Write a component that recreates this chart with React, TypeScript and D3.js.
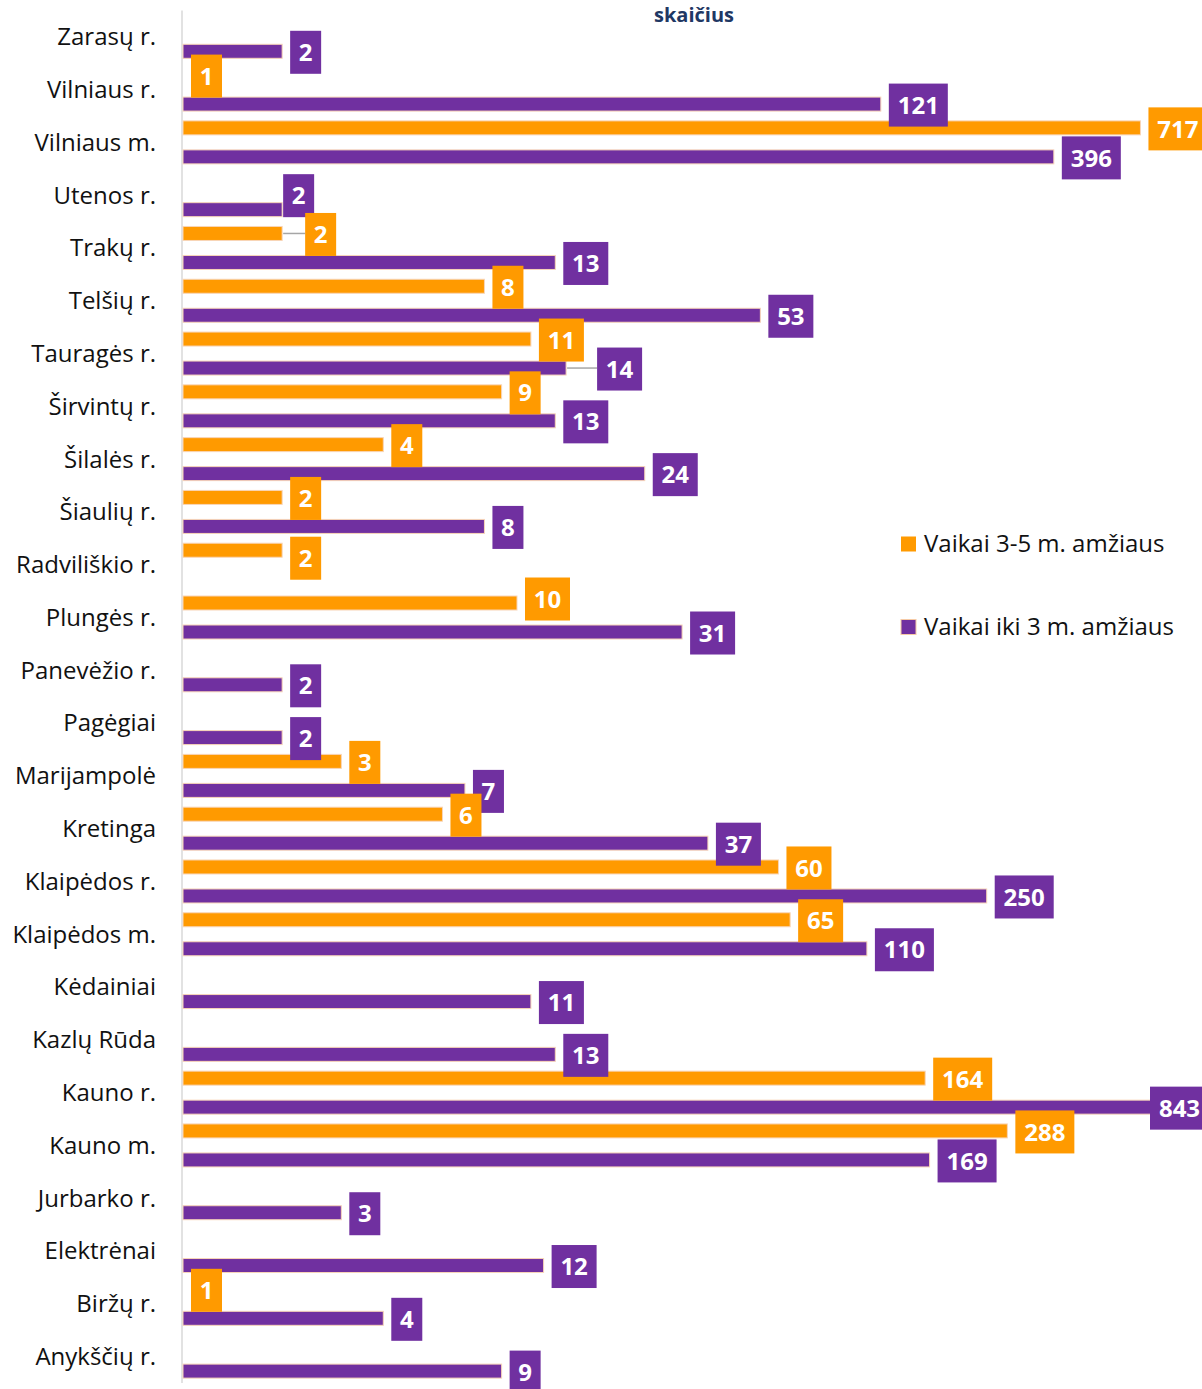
import React from "react";
import * as d3 from "d3";

const categories = [
  "Zarasų r.", "Vilniaus r.", "Vilniaus m.", "Utenos r.", "Trakų r.", "Telšių r.",
  "Tauragės r.", "Širvintų r.", "Šilalės r.", "Šiaulių r.", "Radviliškio r.", "Plungės r.",
  "Panevėžio r.", "Pagėgiai", "Marijampolė", "Kretinga", "Klaipėdos r.", "Klaipėdos m.",
  "Kėdainiai", "Kazlų Rūda", "Kauno r.", "Kauno m.", "Jurbarko r.", "Elektrėnai",
  "Biržų r.", "Anykščių r.",
];

const series3to5: (number | null)[] = [
  null, 1, 717, null, 2, 8, 11, 9, 4, 2, 2, 10, null, null, 3, 6, 60, 65, null, null,
  164, 288, null, null, 1, null,
];

const seriesUnder3: (number | null)[] = [
  2, 121, 396, 2, 13, 53, 14, 13, 24, 8, null, 31, 2, 2, 7, 37, 250, 110, 11, 13,
  843, 169, 3, 12, 4, 9,
];

const seriesNames = ["Vaikai 3-5 m. amžiaus", "Vaikai iki 3 m. amžiaus"];
const seriesKeys = ["s35", "s03"];
const titleText = "skaičius";

// label nudges (styling of overlapping data labels)
const labelNudges: Record<string, { dx?: number; dy?: number; leader?: boolean }> = {
  "Utenos r.|s03": { dx: -7, dy: -15 },
  "Trakų r.|s35": { dx: 15, leader: true },
  "Tauragės r.|s03": { dx: 23, leader: true },
  "Plungės r.|s35": { dy: -5 },
  "Radviliškio r.|s35": { dy: 7 },
};

const COLORS: Record<string, string> = { s35: "#FF9A00", s03: "#7030A0" };

export default function App() {
  const W = 1202;
  const H = 1389;
  const axisX = 183;
  const y = d3.scaleBand<string>().domain(categories).range([10.4, 1383]).paddingInner(0).paddingOuter(0);
  const sub = d3.scalePoint<string>().domain(seriesKeys).range([-14.5, 14.5]);
  const x = d3.scaleLog().domain([1, 1000]).range([181, 1189]);
  const barH = 14;
  const font = "'Open Sans', 'DejaVu Sans', sans-serif";

  type Item = { cat: string; key: string; v: number };
  const items: Item[] = [];
  categories.forEach((c, i) => {
    const a = seriesUnder3[i];
    if (a != null) items.push({ cat: c, key: "s03", v: a });
  });
  categories.forEach((c, i) => {
    const a = series3to5[i];
    if (a != null) items.push({ cat: c, key: "s35", v: a });
  });

  const cy = (it: Item) => (y(it.cat) as number) + y.bandwidth() / 2 + (sub(it.key) as number);

  return (
    <svg width={W} height={H} style={{ position: "absolute", left: 0, top: 0, background: "#fff" }}>
      <text x={694} y={22} textAnchor="middle" fontFamily={font} fontWeight={700} fontSize={20} fill="#1F3864">
        {titleText}
      </text>
      <line x1={182} x2={182} y1={y.range()[0]} y2={y.range()[1]} stroke="#d9d9d9" strokeWidth={1.5} />
      {categories.map((c) => (
        <text
          key={c}
          x={156}
          y={(y(c) as number) + y.bandwidth() / 2}
          dy="0.35em"
          textAnchor="end"
          fontFamily={font}
          fontSize={24}
          fill="#111"
        >
          {c}
        </text>
      ))}
      {items.map((it) => {
        const x1 = x(it.v);
        const w = Math.max(0, x1 - axisX);
        if (w <= 0) return null;
        return (
          <rect
            key={"b" + it.cat + it.key}
            x={axisX}
            y={cy(it) - barH / 2}
            width={w}
            height={barH}
            fill={COLORS[it.key]}
            stroke="#f8d5b8"
            strokeWidth={1}
          />
        );
      })}
      {items.map((it) => {
        const end = Math.max(axisX, x(it.v));
        const nudge = labelNudges[it.cat + "|" + it.key] || {};
        const txt = String(it.v);
        const bw = 17 + 14 * txt.length;
        const bh = 43;
        const bx = Math.min(end + 8, 1150) + (nudge.dx || 0);
        const by = cy(it) + 1 + (nudge.dy || 0) - bh / 2;
        return (
          <g key={"l" + it.cat + it.key}>
            {nudge.leader && (
              <line x1={end + 1} x2={bx} y1={cy(it)} y2={cy(it)} stroke="#a6a6a6" strokeWidth={1.5} />
            )}
            <rect x={bx} y={by} width={bw} height={bh} fill={COLORS[it.key]} />
            <text
              x={bx + bw / 2}
              y={by + bh / 2}
              dy="0.36em"
              textAnchor="middle"
              fontFamily={font}
              fontWeight={700}
              fontSize={24}
              fill="#fff"
            >
              {txt}
            </text>
          </g>
        );
      })}
      {seriesKeys.map((k, i) => {
        const ly = i === 0 ? 544 : 627;
        return (
          <g key={"lg" + k}>
            <rect
              x={901}
              y={ly - 7.5}
              width={15}
              height={15}
              fill={COLORS[k]}
              stroke={k === "s03" ? "#f6caa6" : "none"}
              strokeWidth={1}
            />
            <text x={924} y={ly} dy="0.35em" fontFamily={font} fontSize={24} fill="#111">
              {seriesNames[i]}
            </text>
          </g>
        );
      })}
    </svg>
  );
}
